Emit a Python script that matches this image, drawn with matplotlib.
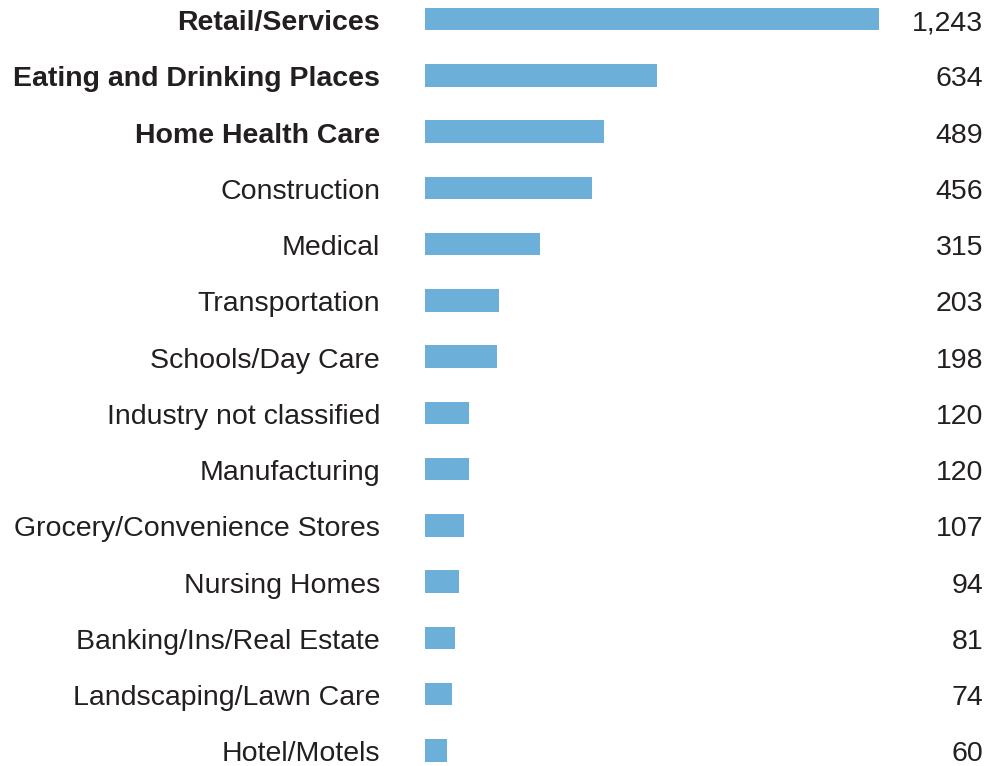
import matplotlib.pyplot as plt
from matplotlib.transforms import blended_transform_factory

categories = ["Retail/Services", "Eating and Drinking Places", "Home Health Care",
              "Construction", "Medical", "Transportation", "Schools/Day Care",
              "Industry not classified", "Manufacturing", "Grocery/Convenience Stores",
              "Nursing Homes", "Banking/Ins/Real Estate", "Landscaping/Lawn Care",
              "Hotel/Motels"]
values = [1243, 634, 489, 456, 315, 203, 198, 120, 120, 107, 94, 81, 74, 60]
bold_rows = [0, 1, 2]

plt.rcParams['font.family'] = ['Liberation Sans', 'DejaVu Sans']

fig = plt.figure(figsize=(9.87, 7.66), dpi=100)
ax = fig.add_axes([425 / 987, 0, 454 / 987, 1])

ypos = list(range(len(categories)))
ax.barh(ypos, values, height=0.40, color='#6cb0da')
ax.set_xlim(0, 1243)
ax.set_ylim(13.276, -0.338)
ax.axis('off')

# labels on the left, values on the right; baseline a bit below bar centre
trans = blended_transform_factory(fig.transFigure, ax.transData)
off = 0.196
for i, (cat, v) in enumerate(zip(categories, values)):
    ax.text(380 / 987, i + off, cat, transform=trans, ha='right', va='baseline',
            fontsize=20.5, color='#231f20',
            fontweight='bold' if i in bold_rows else 'normal')
    ax.text(983 / 987, i + off, f"{v:,}", transform=trans, ha='right', va='baseline',
            fontsize=20.5, color='#231f20')

fig.savefig("out.png", dpi=100)
